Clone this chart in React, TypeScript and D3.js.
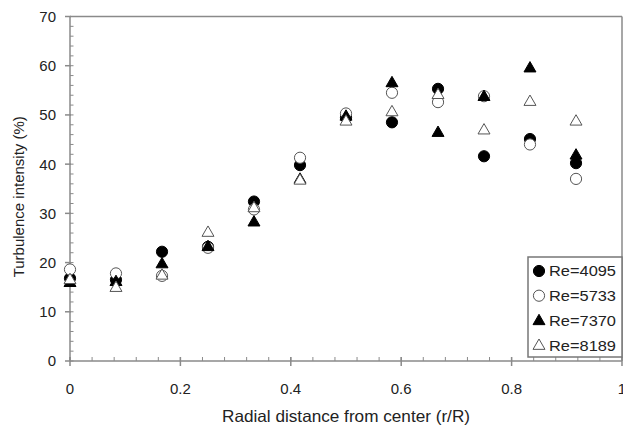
import React from "react";
import * as d3 from "d3";

const xPositions = [0, 0.0833, 0.1667, 0.25, 0.3333, 0.4167, 0.5, 0.5833, 0.6667, 0.75, 0.8333, 0.9167];
const re4095 = [16.8, 16.5, 22.2, 23.2, 32.4, 39.8, 49.5, 48.5, 55.3, 41.6, 45.1, 40.2];
const re5733 = [18.6, 17.8, 17.3, 23.0, 30.8, 41.3, 50.3, 54.5, 52.6, 53.8, 44.0, 37.0];
const re7370 = [16.0, 16.2, 19.8, 23.3, 28.3, 37.0, 49.8, 56.6, 46.5, 53.8, 59.6, 41.9];
const re8189 = [16.6, 15.0, 17.5, 26.2, 31.2, 36.8, 48.8, 50.7, 54.2, 47.0, 52.8, 48.8];
const seriesNames = ["Re=4095", "Re=5733", "Re=7370", "Re=8189"];
const xTickValues = [0, 0.2, 0.4, 0.6, 0.8, 1];
const xTickLabels = ["0", "0.2", "0.4", "0.6", "0.8", "1"];
const yTickValues = [0, 10, 20, 30, 40, 50, 60, 70];

const W = 623, H = 426;
const X0 = 70, X1 = 622, Y0 = 361, Y1 = 16.5;
const FONT = "Liberation Sans, Arial, sans-serif";
const LINE = "#8a8a8a";

type Kind = "fcircle" | "ocircle" | "ftri" | "otri";
const kinds: Kind[] = ["fcircle", "ocircle", "ftri", "otri"];

function Marker({ kind, x, y }: { kind: Kind; x: number; y: number }) {
  if (kind === "fcircle" || kind === "ocircle") {
    const filled = kind === "fcircle";
    return (
      <circle cx={x} cy={y} r={5.6} fill={filled ? "#000" : "#fff"}
        stroke={filled ? "#000" : "#555"} strokeWidth={1} />
    );
  }
  const filled = kind === "ftri";
  const sym = d3.symbol().type(d3.symbolTriangle).size(62)();
  return (
    <path d={sym as string} transform={`translate(${x},${y + 0.8})`}
      fill={filled ? "#000" : "#fff"} stroke={filled ? "#000" : "#555"} strokeWidth={1} />
  );
}

export default function App() {
  const x = d3.scaleLinear().domain([0, 1]).range([X0, X1]);
  const y = d3.scaleLinear().domain([0, 70]).range([Y0, Y1]);
  const series = [re4095, re5733, re7370, re8189];
  const xMinor = d3.range(0, 1.0001, 0.04).map((v) => +v.toFixed(2));
  const yMinor = d3.range(0, 70.001, 2);

  const legX = 528, legY = 257, legW = 94, legH = 100;

  return (
    <svg width={W} height={H} style={{ position: "absolute", left: 0, top: 0, background: "#fff" }}
      fontFamily={FONT}>
      <rect x={0} y={0} width={W} height={H} fill="#fff" />
      {/* frame */}
      <line x1={X0} y1={Y1} x2={X1} y2={Y1} stroke={LINE} strokeWidth={1.5} />
      <line x1={X1} y1={Y1} x2={X1} y2={Y0} stroke={LINE} strokeWidth={1.5} />
      <line x1={X0} y1={Y1} x2={X0} y2={Y0} stroke={LINE} strokeWidth={1.5} />
      <line x1={X0} y1={Y0} x2={X1} y2={Y0} stroke={LINE} strokeWidth={1.5} />
      {/* y minor ticks */}
      {yMinor.map((v) => (
        <line key={"ym" + v} x1={X0} x2={X0 + 3.5} y1={y(v)} y2={y(v)} stroke={LINE} strokeWidth={1} />
      ))}
      {yTickValues.map((v) => (
        <g key={"y" + v}>
          <line x1={X0 - 5} x2={X0 + 1} y1={y(v)} y2={y(v)} stroke={LINE} strokeWidth={1.5} />
          <text x={56} y={y(v)} dy="0.36em" textAnchor="end" fontSize={15} fill="#222">{v}</text>
        </g>
      ))}
      {/* x minor ticks */}
      {xMinor.map((v) => (
        <line key={"xm" + v} x1={x(v)} x2={x(v)} y1={Y0} y2={Y0 - 4} stroke={LINE} strokeWidth={1} />
      ))}
      {xTickValues.map((v, i) => (
        <g key={"x" + v}>
          <line x1={x(v)} x2={x(v)} y1={Y0 - 4} y2={Y0 + 5} stroke={LINE} strokeWidth={1.5} />
          <text x={x(v)} y={394} textAnchor="middle" fontSize={15} fill="#222">{xTickLabels[i]}</text>
        </g>
      ))}
      {/* axis titles */}
      <text x={222} y={422} fontSize={16.5} fill="#222" textLength={248} lengthAdjust="spacingAndGlyphs">
        Radial distance from center (r/R)
      </text>
      <text transform={`translate(24,${(Y0 + Y1) / 2 + 8}) rotate(-90)`} textAnchor="middle" fontSize={15} fill="#222">
        Turbulence intensity (%)
      </text>
      {/* points */}
      {series.map((vals, si) => (
        <g key={"s" + si}>
          {vals.map((v, i) => (
            <Marker key={i} kind={kinds[si]} x={x(xPositions[i])} y={y(v)} />
          ))}
        </g>
      ))}
      {/* legend */}
      <rect x={legX} y={legY} width={legW} height={legH} fill="#fff" stroke="#777" strokeWidth={1.5} />
      {seriesNames.map((name, i) => {
        const cy = legY + 14 + i * 24.7;
        return (
          <g key={name}>
            <Marker kind={kinds[i]} x={legX + 11} y={cy} />
            <text x={legX + 21} y={cy} dy="0.36em" fontSize={15} fill="#222"
              textLength={67} lengthAdjust="spacingAndGlyphs">{name}</text>
          </g>
        );
      })}
    </svg>
  );
}
